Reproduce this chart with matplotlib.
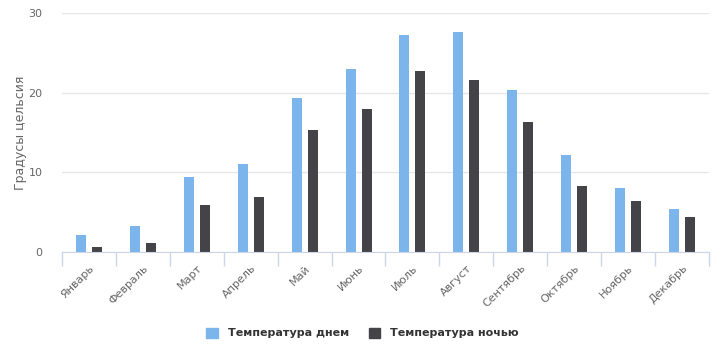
import matplotlib.pyplot as plt
import numpy as np
from matplotlib.patches import Patch

months = ['Январь', 'Февраль', 'Март', 'Апрель', 'Май', 'Июнь',
          'Июль', 'Август', 'Сентябрь', 'Октябрь', 'Ноябрь', 'Декабрь']
day_temp = [2.1, 3.3, 9.4, 11.0, 19.3, 23.0, 27.2, 27.6, 20.3, 12.2, 8.0, 5.4]
night_temp = [0.6, 1.1, 5.9, 6.9, 15.3, 17.9, 22.7, 21.6, 16.3, 8.3, 6.4, 4.4]
yticks = [0, 10, 20, 30]

day_color = '#7cb5ec'
night_color = '#434348'

fig = plt.figure(figsize=(7.25, 3.53), dpi=100)
ax = fig.add_axes([62/725, 1-252/353, 647/725, 239/353])

x = np.arange(len(months))
w = 0.185
ax.bar(x - 0.148, day_temp, w, color=day_color, zorder=3)
ax.bar(x + 0.148, night_temp, w, color=night_color, zorder=3)

ax.set_xlim(-0.5, len(months) - 0.5)
ax.set_ylim(0, 30)
ax.set_yticks(yticks)
ax.grid(axis='y', color='#e6e6e6', lw=1, zorder=0)
for s in ['top', 'right', 'left']:
    ax.spines[s].set_visible(False)
ax.spines['bottom'].set_color('#ccd6eb')
ax.spines['bottom'].set_zorder(4)

ax.set_xticks(x)
ax.set_xticklabels(months, rotation=45, ha='right', rotation_mode='anchor',
                   color='#666666', fontsize=8)
ax.set_xticks(np.arange(-0.5, len(months)), minor=True)
ax.tick_params(axis='x', which='major', length=0, pad=8)
ax.tick_params(axis='x', which='minor', length=10, color='#ccd6eb', width=1)
ax.tick_params(axis='y', length=0, labelcolor='#666666', labelsize=8, pad=14)

ax.set_ylabel('Градусы цельсия', color='#666666', fontsize=9)
ax.yaxis.set_label_coords(-0.054, 0.5)

handles = [Patch(color=day_color, label='Температура днем'),
           Patch(color=night_color, label='Температура ночью')]
fig.legend(handles=handles, loc='center', bbox_to_anchor=(0.5, 1-333/353),
           ncol=2, frameon=False, handlelength=1.0, handleheight=1.0,
           columnspacing=1.8, handletextpad=0.9,
           prop={'weight': 'bold', 'size': 8}, labelcolor='#333333')

fig.savefig('out.png', dpi=100)
